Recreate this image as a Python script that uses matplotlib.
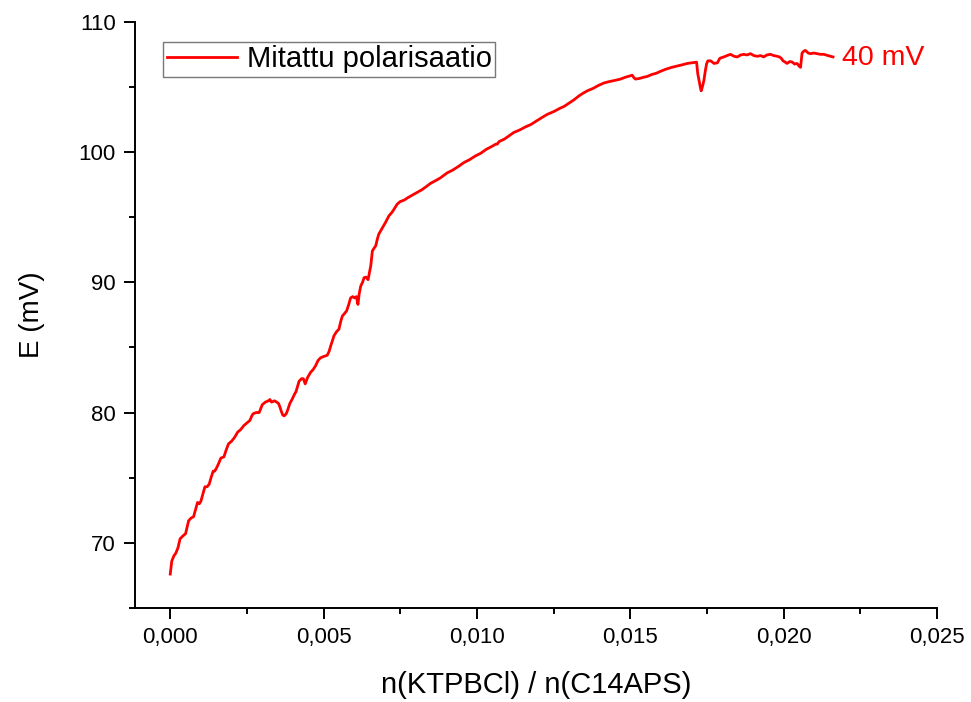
import matplotlib
matplotlib.use("Agg")
import matplotlib.pyplot as plt
from matplotlib.ticker import MultipleLocator, FuncFormatter

plt.rcParams['font.family'] = ['Liberation Sans', 'DejaVu Sans']

# Mitattu polarisaatio (luettu kuvasta)
x_vals = [0.00000, 0.00003, 0.00005, 0.00012, 0.00018, 0.00025, 0.00029, 0.00032, 0.00040, 0.00050,
          0.00055, 0.00060, 0.00068, 0.00076, 0.00083, 0.00089, 0.00095, 0.00100, 0.00107, 0.00113,
          0.00120, 0.00127, 0.00133, 0.00140, 0.00145, 0.00150, 0.00158, 0.00165, 0.00175, 0.00182,
          0.00190, 0.00200, 0.00210, 0.00220, 0.00230, 0.00240, 0.00250, 0.00260, 0.00265, 0.00270,
          0.00280, 0.00290, 0.00300, 0.00310, 0.00320, 0.00325, 0.00330, 0.00340, 0.00347, 0.00353,
          0.00358, 0.00362, 0.00367, 0.00372, 0.00378, 0.00383, 0.00390, 0.00397, 0.00405, 0.00410,
          0.00415, 0.00420, 0.00428, 0.00434, 0.00440, 0.00448, 0.00458, 0.00466, 0.00474, 0.00482,
          0.00490, 0.00500, 0.00512, 0.00518, 0.00523, 0.00530, 0.00534, 0.00542, 0.00550, 0.00556,
          0.00561, 0.00568, 0.00575, 0.00582, 0.00588, 0.00595, 0.00601, 0.00607, 0.00612, 0.00616,
          0.00621, 0.00627, 0.00632, 0.00638, 0.00645, 0.00650, 0.00654, 0.00657, 0.00659, 0.00664,
          0.00670, 0.00675, 0.00680, 0.00692, 0.00702, 0.00713, 0.00724, 0.00732, 0.00740, 0.00750,
          0.00762, 0.00775, 0.00790, 0.00805, 0.00820, 0.00835, 0.00849, 0.00865, 0.00880, 0.00903,
          0.00920, 0.00940, 0.00958, 0.00975, 0.00995, 0.01012, 0.01030, 0.01050, 0.01061, 0.01066,
          0.01072, 0.01090, 0.01105, 0.01120, 0.01140, 0.01160, 0.01175, 0.01195, 0.01212, 0.01230,
          0.01250, 0.01270, 0.01284, 0.01300, 0.01316, 0.01332, 0.01345, 0.01360, 0.01380, 0.01395,
          0.01414, 0.01430, 0.01450, 0.01468, 0.01485, 0.01500, 0.01506, 0.01512, 0.01517, 0.01530,
          0.01545, 0.01555, 0.01570, 0.01585, 0.01599, 0.01615, 0.01635, 0.01653, 0.01670, 0.01686,
          0.01700, 0.01713, 0.01716, 0.01720, 0.01724, 0.01729, 0.01731, 0.01735, 0.01740, 0.01745,
          0.01749, 0.01753, 0.01762, 0.01773, 0.01784, 0.01792, 0.01805, 0.01815, 0.01827, 0.01838,
          0.01849, 0.01860, 0.01870, 0.01880, 0.01892, 0.01903, 0.01914, 0.01925, 0.01935, 0.01945,
          0.01957, 0.01968, 0.01979, 0.01986, 0.01992, 0.01998, 0.02005, 0.02011, 0.02020, 0.02028,
          0.02036, 0.02044, 0.02050, 0.02055, 0.02058, 0.02060, 0.02066, 0.02071, 0.02080, 0.02088,
          0.02098, 0.02109, 0.02120, 0.02131, 0.02145, 0.02161]
e_vals = [67.6, 68.2, 68.6, 69.0, 69.2, 69.6, 70.0, 70.3, 70.5, 70.7,
          71.2, 71.7, 71.9, 72.0, 72.6, 73.1, 73.0, 73.2, 73.8, 74.3,
          74.3, 74.5, 75.0, 75.5, 75.5, 75.7, 76.1, 76.5, 76.6, 77.1,
          77.6, 77.8, 78.1, 78.5, 78.7, 79.0, 79.2, 79.4, 79.7, 79.9,
          80.0, 80.0, 80.6, 80.8, 80.9, 81.0, 80.8, 80.9, 80.8, 80.7,
          80.4, 80.1, 79.8, 79.75, 79.9, 80.2, 80.7, 81.0, 81.4, 81.6,
          82.0, 82.4, 82.6, 82.6, 82.2, 82.7, 83.1, 83.3, 83.6, 84.0,
          84.2, 84.3, 84.4, 84.7, 85.1, 85.6, 85.9, 86.2, 86.4, 87.0,
          87.4, 87.6, 87.8, 88.3, 88.8, 88.9, 88.8, 88.9, 88.3, 89.1,
          89.7, 90.0, 90.35, 90.4, 90.2, 90.8, 91.3, 92.0, 92.4, 92.6,
          92.8, 93.3, 93.7, 94.2, 94.6, 95.1, 95.4, 95.7, 96.0, 96.2,
          96.3, 96.5, 96.7, 96.9, 97.1, 97.35, 97.6, 97.8, 98.0, 98.4,
          98.6, 98.9, 99.2, 99.4, 99.7, 99.9, 100.2, 100.45, 100.6, 100.6,
          100.8, 101.0, 101.25, 101.5, 101.7, 101.95, 102.1, 102.4, 102.65, 102.9,
          103.1, 103.35, 103.5, 103.75, 104.0, 104.3, 104.5, 104.7, 104.9, 105.1,
          105.3, 105.4, 105.5, 105.6, 105.75, 105.85, 105.9, 105.7, 105.6, 105.65,
          105.75, 105.8, 105.95, 106.05, 106.2, 106.35, 106.5, 106.6, 106.7, 106.8,
          106.85, 106.9, 106.9, 106.0, 105.5, 104.9, 104.7, 105.0, 105.5, 106.3,
          106.8, 107.0, 107.0, 106.8, 106.85, 107.2, 107.3, 107.4, 107.5, 107.35,
          107.3, 107.45, 107.5, 107.45, 107.55, 107.4, 107.35, 107.4, 107.3, 107.45,
          107.5, 107.4, 107.35, 107.3, 107.2, 107.0, 106.9, 106.8, 106.95, 106.9,
          106.75, 106.8, 106.6, 106.5, 107.2, 107.6, 107.75, 107.8, 107.6, 107.55,
          107.6, 107.55, 107.5, 107.5, 107.4, 107.3]

x_ticks = [0.000, 0.005, 0.010, 0.015, 0.020, 0.025]
y_ticks = [70, 80, 90, 100, 110]

fig = plt.figure(figsize=(9.71, 7.02), dpi=100)
ax = fig.add_axes([0.139, 0.134, 0.826, 0.835])

ax.plot(x_vals, e_vals, color='red', lw=2.0, label='Mitattu polarisaatio')
ax.text(0.02190, 107.25, '40 mV', color='red', fontsize=20.5, va='center', ha='left')

ax.set_xlim(-0.00115, 0.025)
ax.set_ylim(65, 110)
ax.set_xticks(x_ticks)
ax.set_yticks(y_ticks)
ax.xaxis.set_minor_locator(MultipleLocator(0.0025))
ax.yaxis.set_minor_locator(MultipleLocator(5))
ax.xaxis.set_major_formatter(FuncFormatter(lambda v, p: f'{v:.3f}'.replace('.', ',')))

# Origin-tyyliset akselit: vain vasen ja ala.
ax.spines['top'].set_visible(False)
ax.spines['right'].set_visible(False)
for s in ['left', 'bottom']:
    ax.spines[s].set_linewidth(1.4)
ax.tick_params(which='major', direction='out', length=8, width=1.4, labelsize=16, pad=6)
ax.tick_params(which='minor', direction='out', length=4.5, width=1.4)

ax.set_xlabel('n(KTPBCl) / n(C14APS)', fontsize=21, labelpad=16)
ax.set_ylabel('E (mV)', fontsize=20, labelpad=24)

leg = ax.legend(loc='upper left', bbox_to_anchor=(0.035, 0.966), borderaxespad=0,
                fontsize=21, fancybox=False, handlelength=2.4, handletextpad=0.35,
                borderpad=0.12)
leg.get_frame().set_edgecolor('#555555')
leg.get_frame().set_linewidth(1.0)

fig.savefig('out.png', dpi=100)
